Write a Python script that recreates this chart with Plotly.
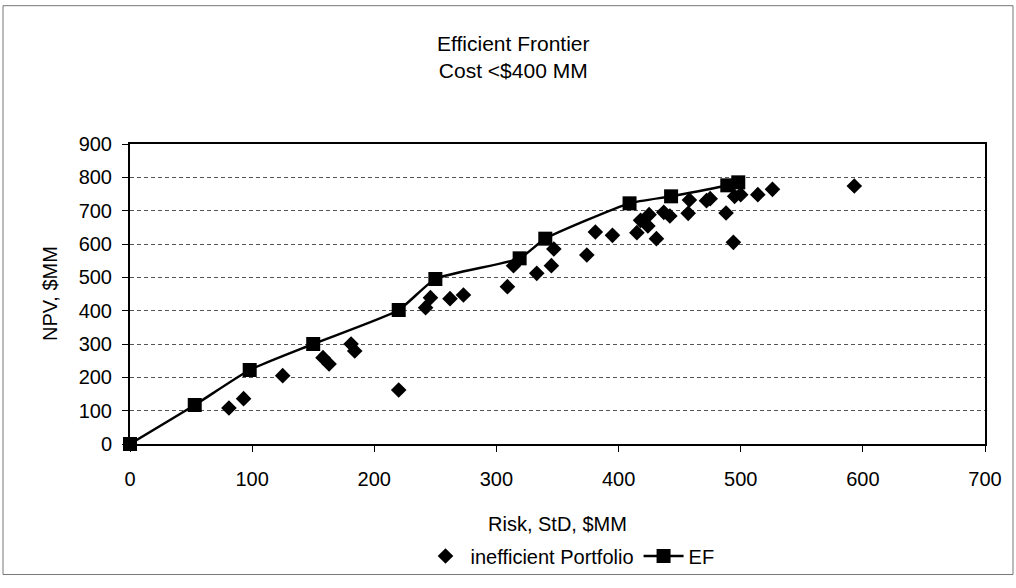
import plotly.graph_objects as go

# Efficient frontier portfolios (risk vs NPV, $MM)
ef_risk = [0, 53, 98, 150, 220, 250, 319, 340, 409, 443, 489, 498]
ef_npv = [0, 117, 222, 300, 402, 495, 557, 616, 722, 743, 776, 785]

# Inefficient portfolios (risk vs NPV, $MM)
ineff_risk = [81, 93, 125, 158, 163, 181, 184, 220, 242, 246, 262, 273,
              309, 314, 333, 345, 347, 374, 381, 395, 415, 418, 424, 425,
              431, 437, 442, 457, 458, 472, 475, 488, 495, 500, 494, 514,
              526, 593]
ineff_npv = [108, 136, 205, 259, 240, 300, 279, 162, 409, 439, 436, 447,
             472, 535, 512, 535, 585, 567, 636, 626, 634, 671, 654, 688,
             616, 695, 684, 692, 732, 730, 736, 693, 743, 748, 605, 748,
             764, 774]

x_ticks = [0, 100, 200, 300, 400, 500, 600, 700]
y_ticks = [0, 100, 200, 300, 400, 500, 600, 700, 800, 900]

FONT = "Liberation Sans, Arial, sans-serif"
W, H = 1016, 588
L, R, T, B = 130, 31, 144, 136
PW, PH = W - L - R, H - T - B


def px(x):
    return (x - L) / PW


def py(y):
    return (H - B - y) / PH


fig = go.Figure()

fig.add_trace(go.Scatter(
    x=ineff_risk, y=ineff_npv, mode="markers", name="inefficient Portfolio",
    marker=dict(symbol="diamond", size=12, color="black"),
    cliponaxis=False,
))

fig.add_trace(go.Scatter(
    x=ef_risk, y=ef_npv, mode="lines+markers", name="EF",
    line=dict(color="black", width=2.5, shape="spline", smoothing=0.5),
    marker=dict(symbol="square", size=14, color="black"),
    cliponaxis=False,
))

axis_common = dict(
    showline=True, linecolor="black", linewidth=2, mirror=True,
    ticks="outside", ticklen=6, tickcolor="black", tickwidth=1,
    zeroline=False,
    tickfont=dict(family=FONT, size=20, color="black"),
)

fig.update_xaxes(range=[0, 700], tickvals=x_ticks, showgrid=False,
                 ticklabelstandoff=10, **axis_common)
fig.update_yaxes(range=[0, 900], tickvals=y_ticks, showgrid=True,
                 gridcolor="#555555", gridwidth=1, griddash="4px,3px",
                 ticklabelstandoff=6, **axis_common)

annotations = [
    dict(text="Efficient Frontier<br>Cost &lt;$400 MM", x=px(513), y=py(55),
         xref="paper", yref="paper", showarrow=False, xanchor="center",
         yanchor="middle", font=dict(family=FONT, size=21, color="black")),
    dict(text="Risk, StD, $MM", x=px(557), y=py(534), xref="paper",
         yref="paper", showarrow=False, xanchor="center", yanchor="middle",
         font=dict(family=FONT, size=20, color="black")),
    dict(text="NPV, $MM", x=px(50), y=py(298), xref="paper", yref="paper",
         showarrow=False, xanchor="center", yanchor="middle", textangle=-90,
         font=dict(family=FONT, size=20, color="black")),
]

fig.update_layout(
    width=W, height=H, autosize=False,
    margin=dict(l=L, r=R, t=T, b=B),
    paper_bgcolor="white", plot_bgcolor="white",
    showlegend=True,
    legend=dict(orientation="h", x=px(570), y=py(567), xanchor="center",
                yanchor="middle", font=dict(family=FONT, size=20, color="black"),
                itemwidth=40, tracegroupgap=0, bgcolor="rgba(0,0,0,0)"),
    annotations=annotations,
    shapes=[dict(type="rect", xref="paper", yref="paper",
                 x0=px(3), x1=px(1013), y0=py(586), y1=py(2),
                 line=dict(color="#777777", width=1))],
)

fig.write_html("out.html")
